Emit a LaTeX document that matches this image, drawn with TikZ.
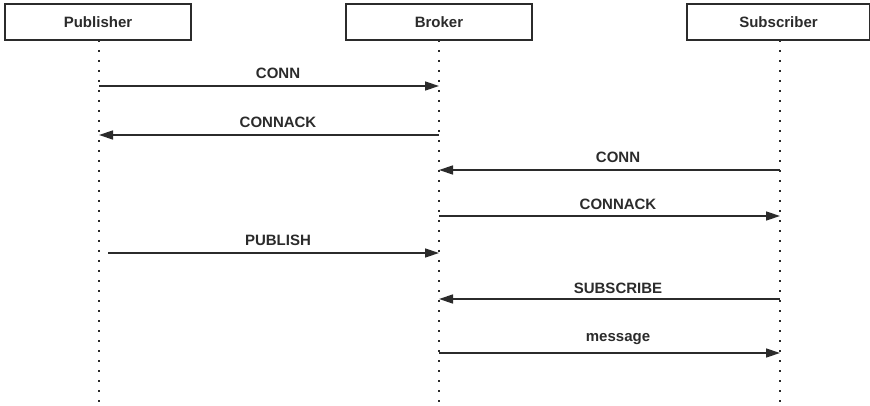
\documentclass[tikz,border=0pt]{standalone}
\usepackage{fontspec}
\setmainfont{Liberation Sans}
\usetikzlibrary{arrows.meta}
\definecolor{ink}{HTML}{2B2B2B}
\begin{document}
\begin{tikzpicture}[x=1pt,y=-1pt,
  actor/.style={draw=ink,line width=1.4pt,fill=white,minimum width=186pt,minimum height=36pt,
    inner sep=0pt,font=\fontsize{15}{17}\selectfont\bfseries,text=ink},
  lifeline/.style={ink,line width=1.6pt,dash pattern=on 1.6pt off 8.4pt},
  msg/.style={ink,line width=1.4pt,-{Triangle[length=14pt,width=9pt]}},
  lbl/.style={font=\fontsize{15}{17}\selectfont\bfseries,text=ink,inner sep=0pt,anchor=base}]
  \useasboundingbox (0,0) rectangle (870,406);

  % participants
  \node[actor] (pub) at (98,22) {Publisher};
  \node[actor] (bro) at (439,22) {Broker};
  \node[actor,minimum width=183pt] (sub) at (778.5,22) {Subscriber};

  % lifelines
  \coordinate (pubEnd) at (99,406);
  \coordinate (broEnd) at (439,406);
  \coordinate (subEnd) at (780,406);
  \draw[lifeline] (99,40) -- (pubEnd);
  \draw[lifeline] (439,40) -- (broEnd);
  \draw[lifeline] (780,40) -- (subEnd);

  % message anchor points on the lifelines
  \coordinate (p1) at (99,86);   \coordinate (b1) at (439,86);
  \coordinate (p2) at (99,135);  \coordinate (b2) at (439,135);
  \coordinate (b3) at (439,170); \coordinate (s3) at (780,170);
  \coordinate (b4) at (439,216); \coordinate (s4) at (780,216);
  \coordinate (p5) at (108,253); \coordinate (b5) at (439,253);
  \coordinate (b6) at (439,299); \coordinate (s6) at (780,299);
  \coordinate (b7) at (439,353); \coordinate (s7) at (780,353);

  % messages
  \draw[msg] (p1) -- (b1);
  \draw[msg] (b2) -- (p2);
  \draw[msg] (s3) -- (b3);
  \draw[msg] (b4) -- (s4);
  \draw[msg] (p5) -- (b5);
  \draw[msg] (s6) -- (b6);
  \draw[msg] (b7) -- (s7);

  % message labels
  \node[lbl] (l1) at (278,79) {CONN};
  \node[lbl] (l2) at (278,128) {CONNACK};
  \node[lbl] (l3) at (618,163) {CONN};
  \node[lbl] (l4) at (618,210) {CONNACK};
  \node[lbl] (l5) at (278,246) {PUBLISH};
  \node[lbl] (l6) at (618,293) {SUBSCRIBE};
  \node[lbl] (l7) at (618,341) {message};
\end{tikzpicture}
\end{document}
